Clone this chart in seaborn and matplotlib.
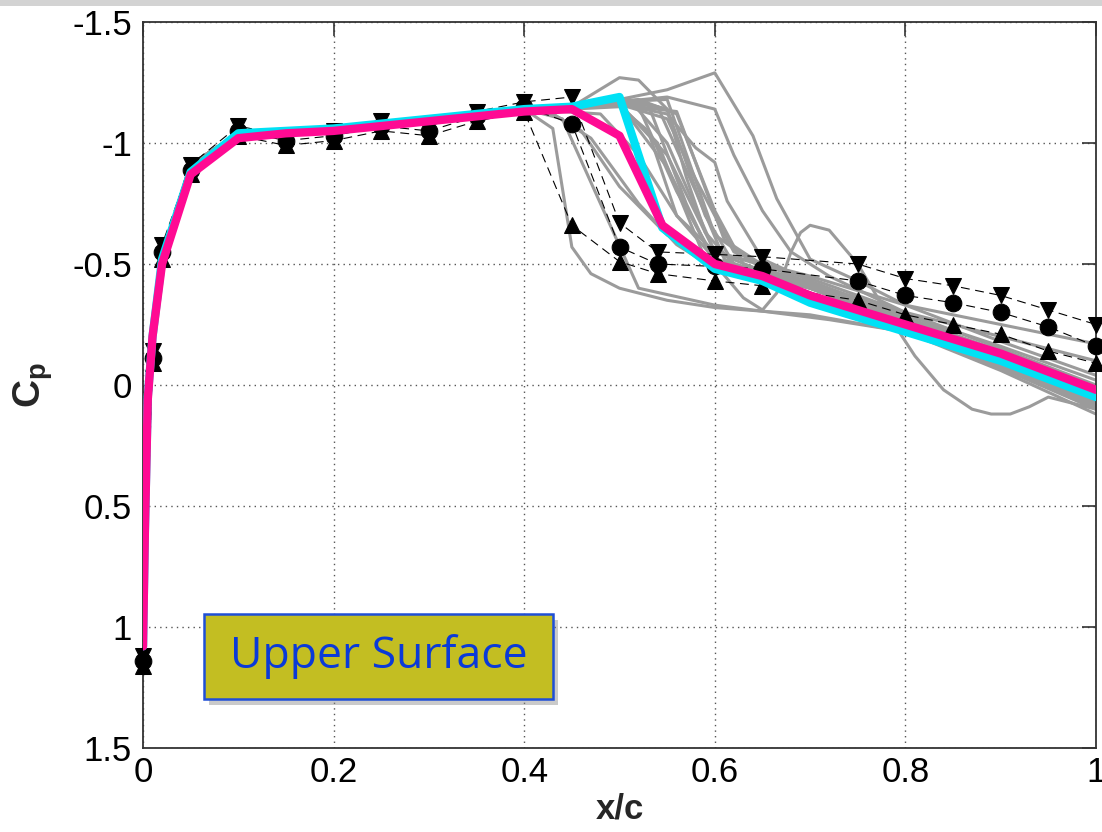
import numpy as np
import pandas as pd
import matplotlib
matplotlib.use('Agg')
import matplotlib.pyplot as plt
from matplotlib.patches import Rectangle
import seaborn as sns

# experimental data (three runs)
exp_x = [0, 0.01, 0.02, 0.05, 0.1, 0.15, 0.2, 0.25, 0.3, 0.35, 0.4, 0.45,
         0.5, 0.54, 0.6, 0.65, 0.75, 0.8, 0.85, 0.9, 0.95, 1.0]
exp_down = [1.12, -0.14, -0.58, -0.91, -1.07, -1.03, -1.05, -1.09, -1.07, -1.13, -1.17, -1.19,
            -0.67, -0.55, -0.54, -0.53, -0.50, -0.44, -0.41, -0.37, -0.31, -0.25]
exp_circ = [1.14, -0.11, -0.55, -0.89, -1.05, -1.01, -1.03, -1.07, -1.05, -1.11, -1.15, -1.08,
            -0.57, -0.50, -0.49, -0.48, -0.43, -0.37, -0.34, -0.30, -0.24, -0.16]
exp_up = [1.16, -0.09, -0.52, -0.87, -1.03, -0.99, -1.01, -1.05, -1.03, -1.09, -1.13, -0.66,
          -0.51, -0.46, -0.43, -0.41, -0.35, -0.29, -0.25, -0.21, -0.14, -0.09]

# CFD solutions (gray): shared leading part + individual aft parts
lead_x = [0.0, 0.002, 0.005, 0.01, 0.02, 0.05, 0.1, 0.15, 0.2, 0.25, 0.3, 0.35, 0.4]
lead_cp = [1.1, 0.5, 0.05, -0.2, -0.54, -0.91, -1.04, -1.05, -1.06, -1.08, -1.10, -1.12, -1.14]

gray_x = [
    [0.45, 0.50, 0.52, 0.56, 0.60, 0.65, 0.70, 0.80, 0.90, 1.00],
    [0.45, 0.50, 0.53, 0.57, 0.60, 0.65, 0.70, 0.80, 0.90, 1.00],
    [0.45, 0.50, 0.54, 0.58, 0.61, 0.65, 0.70, 0.80, 0.90, 1.00],
    [0.45, 0.51, 0.55, 0.59, 0.62, 0.66, 0.70, 0.80, 0.90, 1.00],
    [0.45, 0.50, 0.55, 0.58, 0.62, 0.70, 0.80, 0.90, 1.00],
    [0.45, 0.50, 0.53, 0.56, 0.60, 0.70, 0.80, 0.90, 1.00],
    [0.45, 0.52, 0.56, 0.60, 0.63, 0.70, 0.80, 0.90, 1.00],
    [0.45, 0.50, 0.55, 0.60, 0.65, 0.70, 0.80, 0.90, 1.00],
    [0.44, 0.48, 0.52, 0.56, 0.60, 0.70, 0.80, 0.90, 1.00],
    [0.43, 0.46, 0.50, 0.55, 0.60, 0.70, 0.80, 0.90, 1.00],
    [0.43, 0.47, 0.52, 0.56, 0.60, 0.70, 0.80, 0.90, 1.00],
    [0.43, 0.45, 0.47, 0.50, 0.55, 0.60, 0.70, 0.80, 0.90, 1.00],
    [0.44, 0.48, 0.52, 0.60, 0.72, 0.80, 0.90, 1.00],
    [0.45, 0.50, 0.55, 0.60, 0.64, 0.665, 0.70, 0.75, 0.80, 0.90, 1.00],
    [0.45, 0.50, 0.55, 0.60, 0.62, 0.65, 0.68, 0.72, 0.80, 0.90, 1.00],
    [0.45, 0.50, 0.52, 0.55, 0.57, 0.59, 0.62, 0.66, 0.70, 0.80, 0.90, 1.00],
    [0.45, 0.50, 0.55, 0.58, 0.60, 0.613, 0.65, 0.70, 0.80, 0.90, 1.00],
    [0.45, 0.50, 0.55, 0.60, 0.63, 0.65, 0.665, 0.68, 0.69, 0.70, 0.72, 0.75, 0.78,
     0.81, 0.84, 0.87, 0.89, 0.91, 0.93, 0.95, 1.00],
    [0.45, 0.50, 0.55, 0.60, 0.70, 0.80, 0.90, 1.00],
    [0.45, 0.50, 0.54, 0.59, 0.70, 0.80, 0.90, 1.00],
    [0.45, 0.51, 0.55, 0.60, 0.65, 0.70, 0.80, 0.90, 1.00],
    [0.45, 0.50, 0.56, 0.61, 0.66, 0.70, 0.80, 0.90, 1.00],
]
gray_cp = [
    [-1.15, -1.16, -1.15, -0.80, -0.52, -0.46, -0.40, -0.27, -0.13, 0.02],
    [-1.15, -1.17, -1.16, -0.75, -0.50, -0.44, -0.38, -0.24, -0.10, 0.05],
    [-1.15, -1.17, -1.15, -0.80, -0.52, -0.45, -0.40, -0.25, -0.09, 0.07],
    [-1.14, -1.18, -1.14, -0.70, -0.50, -0.44, -0.40, -0.26, -0.12, 0.03],
    [-1.15, -1.16, -1.10, -0.85, -0.55, -0.42, -0.22, -0.07, 0.10],
    [-1.14, -1.15, -1.05, -0.70, -0.52, -0.38, -0.22, -0.06, 0.12],
    [-1.15, -1.18, -1.12, -0.72, -0.50, -0.40, -0.25, -0.08, 0.08],
    [-1.15, -1.17, -1.18, -0.62, -0.48, -0.42, -0.27, -0.10, 0.06],
    [-1.13, -1.12, -0.95, -0.70, -0.55, -0.44, -0.30, -0.12, 0.04],
    [-1.12, -1.05, -0.82, -0.62, -0.52, -0.42, -0.28, -0.13, 0.03],
    [-1.12, -1.02, -0.75, -0.58, -0.48, -0.38, -0.24, -0.09, 0.06],
    [-1.06, -0.57, -0.46, -0.40, -0.35, -0.32, -0.29, -0.22, -0.10, 0.05],
    [-1.10, -0.75, -0.40, -0.33, -0.27, -0.22, -0.10, 0.02],
    [-1.16, -1.18, -1.22, -1.29, -1.03, -0.77, -0.52, -0.43, -0.33, -0.18, -0.04],
    [-1.16, -1.17, -1.19, -1.14, -0.95, -0.72, -0.55, -0.45, -0.30, -0.15, 0.00],
    [-1.15, -1.27, -1.26, -1.14, -0.86, -0.63, -0.50, -0.44, -0.38, -0.25, -0.11, 0.04],
    [-1.15, -1.16, -1.12, -0.98, -0.92, -0.76, -0.52, -0.43, -0.28, -0.14, 0.01],
    [-1.15, -1.16, -0.90, -0.50, -0.36, -0.31, -0.38, -0.55, -0.63, -0.66, -0.64, -0.50, -0.30,
     -0.12, 0.02, 0.10, 0.12, 0.12, 0.09, 0.05, 0.10],
    [-1.15, -1.16, -0.95, -0.55, -0.45, -0.33, -0.25, -0.17],
    [-1.15, -1.16, -1.00, -0.52, -0.42, -0.30, -0.20, -0.10],
    [-1.15, -1.18, -1.00, -0.55, -0.47, -0.41, -0.29, -0.16, -0.02],
    [-1.15, -1.16, -1.13, -0.60, -0.47, -0.41, -0.24, -0.07, 0.09],
]

# highlighted solutions
cyan_x = [0.0, 0.002, 0.005, 0.01, 0.02, 0.05, 0.1, 0.15, 0.2, 0.3, 0.4, 0.45,
          0.5, 0.545, 0.6, 0.65, 0.7, 0.8, 0.9, 1.0]
cyan_cp = [1.08, 0.6, 0.05, -0.2, -0.52, -0.88, -1.04, -1.05, -1.06, -1.10, -1.14, -1.15,
           -1.19, -0.65, -0.48, -0.43, -0.34, -0.22, -0.10, 0.05]
mag_x = [0.0, 0.002, 0.005, 0.01, 0.02, 0.05, 0.1, 0.15, 0.2, 0.3, 0.4, 0.45,
         0.5, 0.545, 0.6, 0.65, 0.7, 0.8, 0.9, 1.0]
mag_cp = [1.08, 0.6, 0.06, -0.2, -0.50, -0.87, -1.02, -1.04, -1.05, -1.09, -1.13, -1.14,
          -1.03, -0.66, -0.50, -0.45, -0.37, -0.25, -0.13, 0.02]

xticks = [0, 0.2, 0.4, 0.6, 0.8, 1.0]
xtick_labels = ['0', '0.2', '0.4', '0.6', '0.8', '1']
yticks = [-1.5, -1.0, -0.5, 0.0, 0.5, 1.0, 1.5]
ytick_labels = ['-1.5', '-1', '-0.5', '0', '0.5', '1', '1.5']

sns.set_style('white')
plt.rcParams['font.family'] = ['Liberation Sans', 'DejaVu Sans']
plt.rcParams['mathtext.fontset'] = 'custom'
plt.rcParams['mathtext.bf'] = 'Liberation Sans:bold'
plt.rcParams['mathtext.rm'] = 'Liberation Sans'

W, H = 1102, 832
fig = plt.figure(figsize=(W / 100, H / 100), dpi=100)
fig.patch.set_facecolor('white')
# gray strip along the top edge
fig.patches.append(Rectangle((0, 1 - 6 / H), 1, 6 / H, transform=fig.transFigure,
                             facecolor='#d3d3d3', edgecolor='none', zorder=0))

ax = fig.add_axes([143 / W, 1 - 748 / H, (1096 - 143) / W, (748 - 22) / H])

rows = []
for i, (gx, gc) in enumerate(zip(gray_x, gray_cp)):
    for xv, cv in zip(lead_x + gx, lead_cp + gc):
        rows.append({'x': xv, 'cp': cv, 'run': i})
gray_df = pd.DataFrame(rows)
sns.lineplot(data=gray_df, x='x', y='cp', units='run', estimator=None,
             color='#9b9b9b', linewidth=2.2, sort=False, ax=ax, zorder=2)

for vals, mk in [(exp_up, '^'), (exp_circ, 'o'), (exp_down, 'v')]:
    sns.lineplot(x=exp_x, y=vals, color='black', linewidth=0.8, linestyle=(0, (8, 5)),
                 marker=mk, markersize=12, markeredgecolor='black', markerfacecolor='black',
                 sort=False, ax=ax, zorder=4, clip_on=False)

sns.lineplot(x=cyan_x, y=cyan_cp, color='#00e1f5', linewidth=6, sort=False, ax=ax, zorder=5)
sns.lineplot(x=mag_x, y=mag_cp, color='#ff0a93', linewidth=6, sort=False, ax=ax, zorder=6)

ax.set_xlim(0, 1)
ax.set_ylim(1.5, -1.5)
ax.set_xticks(xticks)
ax.set_xticklabels(xtick_labels)
ax.set_yticks(yticks)
ax.set_yticklabels(ytick_labels)
ax.grid(True, linestyle=(0, (1, 3)), color='#555555', linewidth=1.0)
ax.tick_params(axis='both', which='both', direction='in', length=10, width=1.2,
               top=True, right=True, labelsize=25, colors='#333333', labelcolor='black')
ax.tick_params(axis='x', pad=6)
ax.tick_params(axis='y', pad=8)
for s in ax.spines.values():
    s.set_color('#333333')
    s.set_linewidth(1.3)

ax.set_xlabel('x/c', fontsize=25, fontweight='bold', labelpad=2)
ax.set_ylabel(r'$\mathbf{C_p}$', fontsize=28, labelpad=12)

# annotation box with drop shadow
bx, by, bw, bh = 204 / W, 1 - 699 / H, 349 / W, 85 / H
fig.patches.append(Rectangle((bx + 5 / W, by - 6 / H), bw, bh, transform=fig.transFigure,
                             facecolor='#8a8a8a', edgecolor='none', alpha=0.45, zorder=9))
fig.patches.append(Rectangle((bx, by), bw, bh, transform=fig.transFigure,
                             facecolor='#c3be22', edgecolor='#1f4fd6', linewidth=1.8, zorder=10))
fig.text(bx + bw / 2, by + bh / 2, 'Upper Surface', fontsize=32, color='#0a3ad8',
         family=['Open Sans', 'DejaVu Sans'], ha='center', va='center', zorder=11)

fig.savefig('out.png', dpi=100)
